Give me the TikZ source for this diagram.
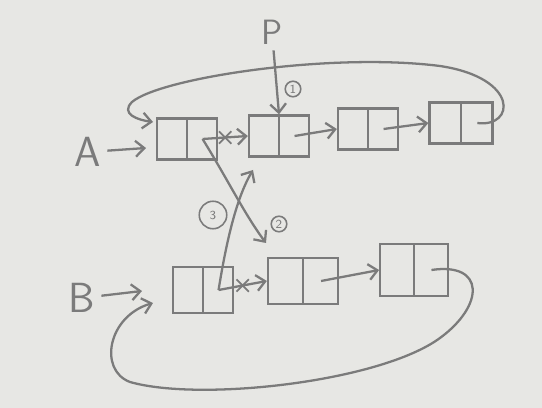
\documentclass[tikz,border=0pt]{standalone}
\usepackage{xcolor}
\usepackage{tikz}
\usetikzlibrary{shapes,positioning,calc,arrows.meta}
\definecolor{paper}{HTML}{E7E7E4}
\definecolor{pencil}{HTML}{7B7B7B}
\tikzset{cell/.style={rectangle,draw=pencil,line width=1.3pt,minimum width=1.2cm,minimum height=0.82cm,inner sep=0pt,
    path picture={\draw[pencil,line width=1.3pt] (path picture bounding box.north) -- (path picture bounding box.south);}},
  lbl/.style={text=pencil,font=\sffamily\fontsize{24}{24}\selectfont},
  num/.style={circle,draw=pencil,line width=0.9pt,text=pencil,inner sep=1pt,font=\sffamily\scriptsize},
  link/.style={pencil,line width=1.3pt,->},
  cut/.style={cross out,draw=pencil,line width=1pt,minimum size=6pt,inner sep=0pt}}

\begin{document}
\begin{tikzpicture}[x=0.02cm,y=-0.02cm,>={Straight Barb[length=5pt,width=9pt]}]
    \fill[paper] (0,0) rectangle (542,408);
    \useasboundingbox (0,0) rectangle (542,408);

    % list A
    \node[cell] (a1)at (187,139) {};
    \node[cell] (a2)at (279,136) {};
    \node[cell] (a3)at (368,129) {};
    \node[cell,minimum width=1.26cm] (a4)at (461,123) {};
    % list B
    \node[cell,minimum height=0.92cm] (b1)at (203,290) {};
    \node[cell,minimum width=1.4cm,minimum height=0.92cm] (b2)at (303,281) {};
    \node[cell,minimum width=1.35cm,minimum height=1.05cm] (b3)at (414,270) {};

    \node[lbl] (A)at (88,152) {A};
    \node[lbl] (B)at (82,298) {B};
    \node[lbl,font=\sffamily\fontsize{20}{20}\selectfont] (P)at (272,32) {P};
    \node[num] (n1)at (293,89) {1};
    \node[num] (n2)at (279,224) {2};
    \node[num,minimum height=0.55cm] (n3)at (213,215) {3};

    \coordinate (ain) at (146,148);
    \coordinate (atop) at (153,122);
    \coordinate (bin) at (142,291);
    \coordinate (bbot) at (153,303);
    \coordinate (c2) at (266,243);
    \coordinate (c3) at (253,170);
    \coordinate (a1r) at ($(a1.center)!0.5!(a1.east)$);
    \coordinate (a2r) at ($(a2.center)!0.5!(a2.east)$);
    \coordinate (a3r) at ($(a3.center)!0.5!(a3.east)$);
    \coordinate (a4r) at ($(a4.center)!0.5!(a4.east)$);
    \coordinate (b1r) at ($(b1.center)!0.5!(b1.east)$);
    \coordinate (b2r) at ($(b2.center)!0.5!(b2.east)$);
    \coordinate (b3r) at ($(b3.center)!0.5!(b3.east)$);

    \draw [link] (A) to (ain);
    \draw [link] (B) to (bin);
    \draw [link] (P) to (a2.north);
    \draw [link] (a1r) to node[cut]{} (a2.west);
    \draw [link] (a2r) to (a3.west);
    \draw [link] (a3r) to (a4.west);
    \draw [link] (b1r) to node[cut]{} (b2.west);
    \draw [link] (b2r) to (b3.west);

    \draw [link] (a1r) .. controls (228,180) and (245,215) .. (c2);
    \draw [link] (b1r) .. controls (225,250) and (235,200) .. (c3);

    \draw [link] (a4r) .. controls (515,128) and (520,78) .. (440,66)
        .. controls (330,52) and (160,78) .. (132,102)
        .. controls (120,114) and (138,120) .. (atop);
    \draw [link] (b3r) .. controls (485,262) and (485,305) .. (440,338)
        .. controls (380,382) and (200,402) .. (130,382)
        .. controls (98,370) and (108,316) .. (bbot);
\end{tikzpicture}
\end{document}
